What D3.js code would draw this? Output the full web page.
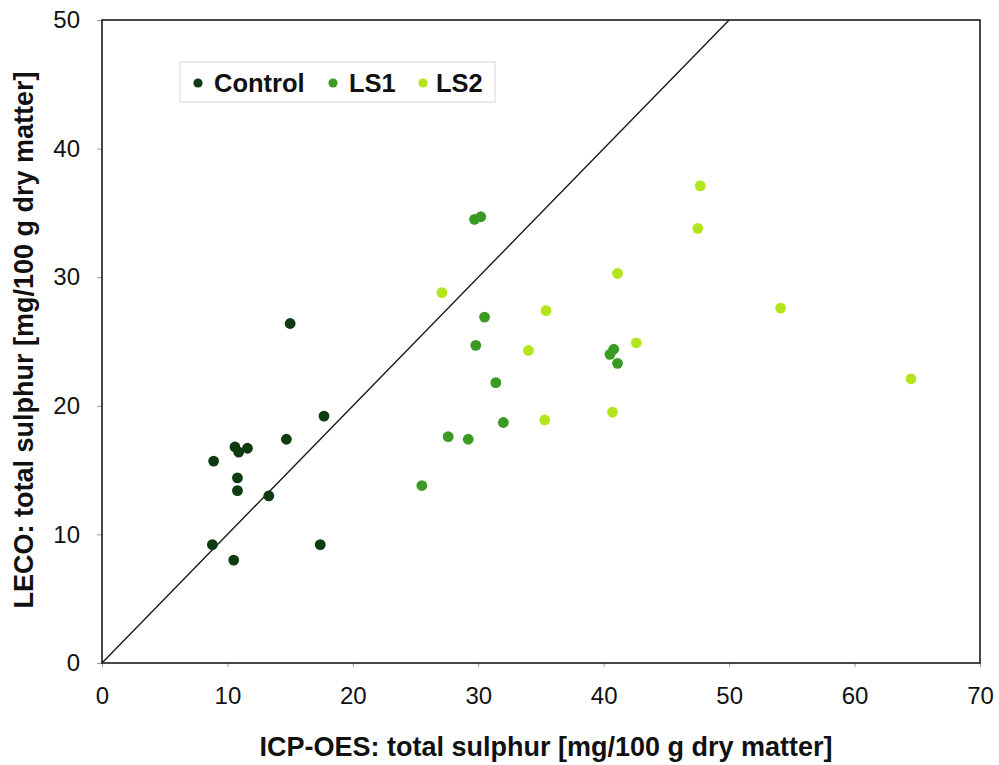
<!DOCTYPE html>
<html>
<head>
<meta charset="utf-8">
<script src="https://cdn.jsdelivr.net/npm/d3@7"></script>
<style>
  html, body { margin: 0; padding: 0; background: #fff; }
  svg { display: block; }
  text { font-family: "Liberation Sans", Arial, Helvetica, sans-serif; fill: #111; }
</style>
</head>
<body>
<div id="chart"></div>
<script>
// ---- data (ICP-OES x, LECO y) ----
const seriesNames = ["Control", "LS1", "LS2"];
const seriesColors = ["#0e3b0f", "#3b9a24", "#b3e51c"];

const controlX = [15.0, 17.7, 14.7, 10.6, 10.9, 11.6, 8.9, 10.8, 10.8, 13.3, 8.8, 17.4, 10.5];
const controlY = [26.4, 19.2, 17.4, 16.8, 16.4, 16.7, 15.7, 14.4, 13.4, 13.0, 9.2, 9.2, 8.0];

const ls1X = [29.7, 30.2, 30.5, 29.8, 31.4, 32.0, 27.6, 29.2, 40.8, 40.5, 41.1, 25.5];
const ls1Y = [34.5, 34.7, 26.9, 24.7, 21.8, 18.7, 17.6, 17.4, 24.4, 24.0, 23.3, 13.8];

const ls2X = [27.1, 35.4, 34.0, 41.1, 42.6, 35.3, 40.7, 47.7, 47.5, 54.1, 64.5];
const ls2Y = [28.8, 27.4, 24.3, 30.3, 24.9, 18.9, 19.5, 37.1, 33.8, 27.6, 22.1];

const xTicks = [0, 10, 20, 30, 40, 50, 60, 70];
const yTicks = [0, 10, 20, 30, 40, 50];
const xLabel = "ICP-OES: total sulphur [mg/100 g dry matter]";
const yLabel = "LECO: total sulphur [mg/100 g dry matter]";

const series = [
  { name: seriesNames[0], color: seriesColors[0], xs: controlX, ys: controlY },
  { name: seriesNames[1], color: seriesColors[1], xs: ls1X, ys: ls1Y },
  { name: seriesNames[2], color: seriesColors[2], xs: ls2X, ys: ls2Y }
];

// ---- layout ----
const W = 999, H = 765;
const m = { left: 102, right: 19, top: 20, bottom: 102 };
const pw = W - m.left - m.right, ph = H - m.top - m.bottom;

const svg = d3.select("#chart").append("svg").attr("width", W).attr("height", H);
const g = svg.append("g").attr("transform", `translate(${m.left},${m.top})`);

const x = d3.scaleLinear().domain([0, 70]).range([0, pw]);
const y = d3.scaleLinear().domain([0, 50]).range([ph, 0]);

// axes
const xAxis = g.append("g").attr("transform", `translate(0,${ph})`)
  .call(d3.axisBottom(x).tickValues(xTicks).tickSize(4).tickPadding(20).tickFormat(d3.format("d")));
const yAxis = g.append("g")
  .call(d3.axisLeft(y).tickValues(yTicks).tickSize(5).tickPadding(17).tickFormat(d3.format("d")));
[xAxis, yAxis].forEach(a => {
  a.select(".domain").remove();
  a.selectAll(".tick line").attr("stroke", "#999");
  a.selectAll(".tick text").style("font-size", "24px").attr("fill", "#1a1a1a");
});

// diagonal 1:1 line
const diag = [0, 50];
g.append("line")
  .attr("x1", x(diag[0])).attr("y1", y(diag[0]))
  .attr("x2", x(diag[1])).attr("y2", y(diag[1]))
  .attr("stroke", "#1a1a1a").attr("stroke-width", 1.4);

// plot frame
g.append("rect").attr("x", 0).attr("y", 0).attr("width", pw).attr("height", ph)
  .attr("fill", "none").attr("stroke", "#1a1a1a").attr("stroke-width", 1.6);

// points
series.forEach(s => {
  g.append("g").selectAll("circle")
    .data(s.xs.map((v, i) => [v, s.ys[i]]))
    .join("circle")
    .attr("cx", d => x(d[0])).attr("cy", d => y(d[1]))
    .attr("r", 5.4).attr("fill", s.color);
});

// legend
const lg = svg.append("g").attr("transform", "translate(180,62)");
lg.append("rect").attr("width", 315).attr("height", 40)
  .attr("fill", "#fff").attr("stroke", "#d6d6d6").attr("stroke-width", 1);
const legPos = [{ dot: 18, txt: 34 }, { dot: 153, txt: 169 }, { dot: 243, txt: 256 }];
series.forEach((s, i) => {
  lg.append("circle").attr("cx", legPos[i].dot).attr("cy", 21).attr("r", 4.6).attr("fill", s.color);
  lg.append("text").attr("x", legPos[i].txt).attr("y", 30)
    .style("font-size", "25.5px").style("font-weight", "bold").text(s.name);
});

// axis titles
svg.append("text").attr("x", m.left + pw / 2 + 5).attr("y", 756)
  .attr("text-anchor", "middle").style("font-size", "27px").style("font-weight", "bold")
  .text(xLabel);
svg.append("text").attr("transform", `translate(33,340) rotate(-90)`)
  .attr("text-anchor", "middle").style("font-size", "27px").style("font-weight", "bold")
  .text(yLabel);
</script>
</body>
</html>
